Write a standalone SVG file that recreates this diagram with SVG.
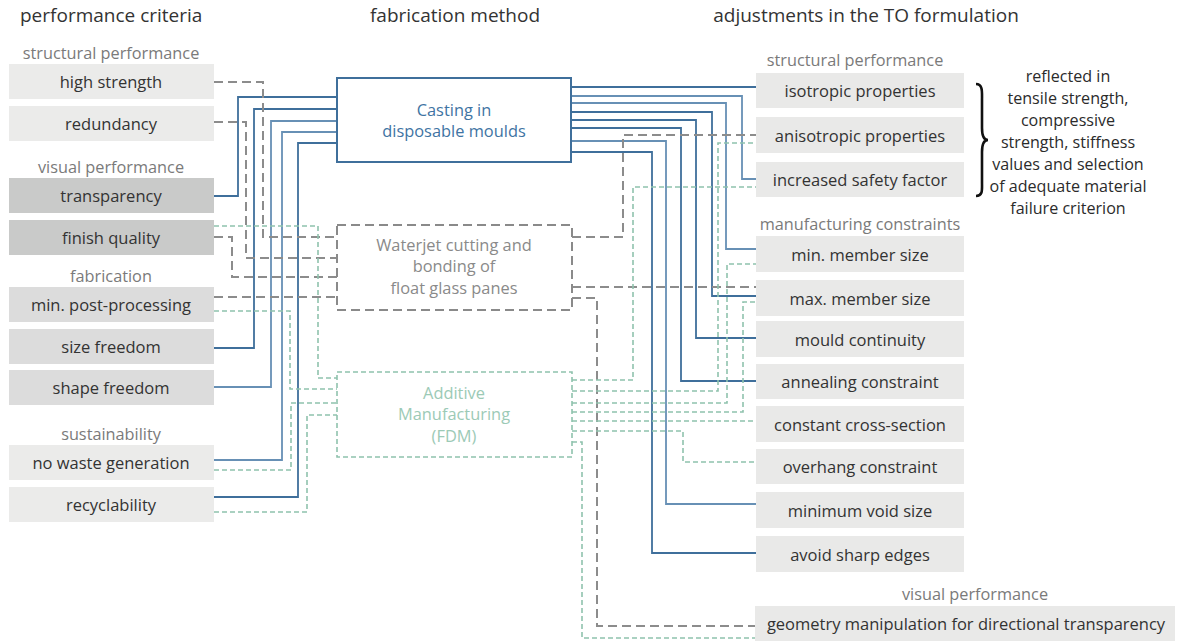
<svg xmlns="http://www.w3.org/2000/svg" width="1177" height="641" viewBox="0 0 1177 641">
  <style>
    text { font-family: "Open Sans", "Noto Sans", sans-serif; }
    .head { font-size: 19px; fill: #333; }
    .cat { font-size: 16.3px; fill: #7a7a7a; text-anchor: middle; }
    .lbl { font-size: 16.5px; fill: #333; text-anchor: middle; dominant-baseline: central; }
    .b-light { fill: #ebebea; }
    .b-dark { fill: #c9cac9; }
    .b-mid { fill: #dcdcdc; }
    .b-right { fill: #e9e9e8; }
    .cast { fill: none; stroke: #3f6f9b; stroke-width: 2; }
    .jet { fill: none; stroke: #8a8a8a; stroke-width: 2; stroke-dasharray: 9 5; }
    .am { fill: none; stroke: #8fc2ad; stroke-width: 1.6; stroke-dasharray: 5 3; }
    .t-cast { font-size: 16.4px; fill: #3f74a3; text-anchor: middle; }
    .t-jet { font-size: 16.4px; fill: #8a8a8a; text-anchor: middle; }
    .t-am { font-size: 16.4px; fill: #9ccab6; text-anchor: middle; }
    .c-blue { fill: none; stroke: #3f6f9b; stroke-width: 1.8; }
    .c-blue2 { fill: none; stroke: #6790b5; stroke-width: 1.8; }
    .c-gray { fill: none; stroke: #8c8c8c; stroke-width: 2; stroke-dasharray: 9 5; }
    .c-green { fill: none; stroke: #8fc2ad; stroke-width: 1.6; stroke-dasharray: 5 3; }
    .note { font-size: 16.1px; fill: #2b2b2b; text-anchor: middle; }
  </style>

  <!-- column headings -->
  <text class="head" x="20" y="22">performance criteria</text>
  <text class="head" x="455" y="22" text-anchor="middle">fabrication method</text>
  <text class="head" x="866" y="22" text-anchor="middle">adjustments in the TO formulation</text>

  <!-- category captions -->
  <text class="cat" x="111" y="59">structural performance</text>
  <text class="cat" x="111" y="173">visual performance</text>
  <text class="cat" x="111" y="282">fabrication</text>
  <text class="cat" x="111" y="440">sustainability</text>
  <text class="cat" x="855" y="66">structural performance</text>
  <text class="cat" x="860" y="230">manufacturing constraints</text>
  <text class="cat" x="975" y="600">visual performance</text>

  <!-- connectors -->
  <g id="connectors">
    <!-- criteria to casting -->
    <path class="c-blue" d="M214,196 H238 V97 H337"/>
    <path class="c-blue" d="M214,348 H254 V109 H337"/>
    <path class="c-blue2" d="M214,387 H271 V121 H337"/>
    <path class="c-blue2" d="M214,460 H282 V132 H337"/>
    <path class="c-blue" d="M214,497 H298 V143 H337"/>
    <!-- criteria to waterjet -->
    <path class="c-gray" d="M214,82 H263 V237 H337"/>
    <path class="c-gray" d="M214,122 H246 V258 H337"/>
    <path class="c-gray" d="M214,237 H232 V277 H337"/>
    <path class="c-gray" d="M214,297 H337"/>
    <!-- criteria to additive manufacturing -->
    <path class="c-green" d="M214,226 H318 V378 H337"/>
    <path class="c-green" d="M214,311 H290 V389 H337"/>
    <path class="c-green" d="M214,470 H291 V403 H337"/>
    <path class="c-green" d="M214,512 H307 V415 H337"/>

    <!-- casting to adjustments -->
    <path class="c-blue" d="M571,87 H756"/>
    <path class="c-blue2" d="M571,96 H742 V179 H756"/>
    <path class="c-blue2" d="M571,103 H726 V249 H756"/>
    <path class="c-blue" d="M571,112 H712 V296 H756"/>
    <path class="c-blue" d="M571,120 H696 V338 H756"/>
    <path class="c-blue" d="M571,128 H681 V381 H756"/>
    <path class="c-blue2" d="M571,141 H666 V504 H756"/>
    <path class="c-blue" d="M571,152 H652 V553 H756"/>
    <!-- waterjet to adjustments -->
    <path class="c-gray" d="M572,237 H623 V135 H756"/>
    <path class="c-gray" d="M572,287 H756"/>
    <path class="c-gray" d="M572,298 H597 V626 H755"/>
    <!-- additive manufacturing to adjustments -->
    <path class="c-green" d="M572,380 H633 V187 H756"/>
    <path class="c-green" d="M572,391 H718 V143 H756"/>
    <path class="c-green" d="M572,403 H727 V264 H756"/>
    <path class="c-green" d="M572,412 H743 V302 H756"/>
    <path class="c-green" d="M572,421 H756"/>
    <path class="c-green" d="M572,431 H683 V462 H756"/>
    <path class="c-green" d="M572,442 H582 V638 H755"/>
  </g>

  <!-- performance criteria -->
  <g id="high-strength"><rect class="b-light" x="9" y="64" width="205" height="35"/><text class="lbl" x="111" y="81.5">high strength</text></g>
  <g id="redundancy"><rect class="b-light" x="9" y="106" width="205" height="35"/><text class="lbl" x="111" y="123.5">redundancy</text></g>
  <g id="transparency"><rect class="b-dark" x="9" y="178" width="205" height="35"/><text class="lbl" x="111" y="195.5">transparency</text></g>
  <g id="finish-quality"><rect class="b-dark" x="9" y="220" width="205" height="35"/><text class="lbl" x="111" y="237.5">finish quality</text></g>
  <g id="min-post-processing"><rect class="b-mid" x="9" y="287" width="205" height="35"/><text class="lbl" x="111" y="304.5">min. post-processing</text></g>
  <g id="size-freedom"><rect class="b-mid" x="9" y="329" width="205" height="35"/><text class="lbl" x="111" y="346.5">size freedom</text></g>
  <g id="shape-freedom"><rect class="b-mid" x="9" y="370" width="205" height="35"/><text class="lbl" x="111" y="387.5">shape freedom</text></g>
  <g id="no-waste-generation"><rect class="b-light" x="9" y="445" width="205" height="35"/><text class="lbl" x="111" y="462.5">no waste generation</text></g>
  <g id="recyclability"><rect class="b-light" x="9" y="487" width="205" height="35"/><text class="lbl" x="111" y="504.5">recyclability</text></g>

  <!-- fabrication methods -->
  <g id="casting">
    <rect class="cast" x="337" y="78" width="234" height="84"/>
    <text class="t-cast" x="454" y="116">Casting in</text>
    <text class="t-cast" x="454" y="137">disposable moulds</text>
  </g>
  <g id="waterjet">
    <rect class="jet" x="337" y="225" width="235" height="85"/>
    <text class="t-jet" x="454" y="251">Waterjet cutting and</text>
    <text class="t-jet" x="454" y="272">bonding of</text>
    <text class="t-jet" x="454" y="294">float glass panes</text>
  </g>
  <g id="additive-manufacturing">
    <rect class="am" x="337" y="372" width="235" height="85"/>
    <text class="t-am" x="454" y="399">Additive</text>
    <text class="t-am" x="454" y="420">Manufacturing</text>
    <text class="t-am" x="454" y="442">(FDM)</text>
  </g>

  <!-- adjustments in the TO formulation -->
  <g id="isotropic"><rect class="b-right" x="756" y="73" width="208" height="35"/><text class="lbl" x="860" y="90.5">isotropic properties</text></g>
  <g id="anisotropic"><rect class="b-right" x="756" y="117" width="208" height="36"/><text class="lbl" x="860" y="135">anisotropic properties</text></g>
  <g id="safety-factor"><rect class="b-right" x="756" y="162" width="208" height="35"/><text class="lbl" x="860" y="179.5">increased safety factor</text></g>
  <g id="min-member"><rect class="b-right" x="756" y="236" width="208" height="36"/><text class="lbl" x="860" y="254">min. member size</text></g>
  <g id="max-member"><rect class="b-right" x="756" y="280" width="208" height="36"/><text class="lbl" x="860" y="298">max. member size</text></g>
  <g id="mould-continuity"><rect class="b-right" x="756" y="321" width="208" height="36"/><text class="lbl" x="860" y="339">mould continuity</text></g>
  <g id="annealing"><rect class="b-right" x="756" y="364" width="208" height="35"/><text class="lbl" x="860" y="381.5">annealing constraint</text></g>
  <g id="cross-section"><rect class="b-right" x="756" y="406" width="208" height="36"/><text class="lbl" x="860" y="424">constant cross-section</text></g>
  <g id="overhang"><rect class="b-right" x="756" y="449" width="208" height="35"/><text class="lbl" x="860" y="466.5">overhang constraint</text></g>
  <g id="void-size"><rect class="b-right" x="756" y="492" width="208" height="36"/><text class="lbl" x="860" y="510">minimum void size</text></g>
  <g id="sharp-edges"><rect class="b-right" x="756" y="536" width="208" height="36"/><text class="lbl" x="860" y="554">avoid sharp edges</text></g>
  <g id="geometry-manipulation"><rect class="b-right" x="755" y="606" width="420" height="35"/><text class="lbl" x="966" y="623.5">geometry manipulation for directional transparency</text></g>

  <!-- brace and material note -->
  <g id="material-note">
    <path d="M976,84 C983,84 982,92 982,100 L982,128 C982,136 984,140 988,140 C984,140 982,144 982,152 L982,182 C982,190 983,196 976,196" fill="none" stroke="#111" stroke-width="2.6"/>
    <text class="note" x="1068" y="82">reflected in</text>
    <text class="note" x="1068" y="104">tensile strength,</text>
    <text class="note" x="1068" y="126">compressive</text>
    <text class="note" x="1068" y="148">strength, stiffness</text>
    <text class="note" x="1068" y="170">values and selection</text>
    <text class="note" x="1068" y="192">of adequate material</text>
    <text class="note" x="1068" y="214">failure criterion</text>
  </g>
</svg>
